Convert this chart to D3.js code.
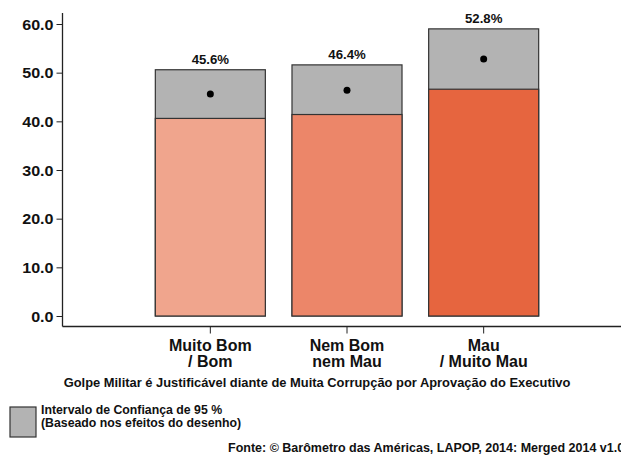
<!DOCTYPE html>
<html>
<head>
<meta charset="utf-8">
<script src="https://cdn.jsdelivr.net/npm/d3@7"></script>
<style>
  html, body { margin: 0; padding: 0; background: #fff; }
  svg { display: block; }
  text { font-family: "Liberation Sans", Arial, Helvetica, sans-serif; font-weight: bold; fill: #111; }
</style>
</head>
<body>
<svg id="chart" width="621" height="456"></svg>
<script>
// Opinion groups (two-line labels) and the estimates for each group
const categories = ["Muito Bom / Bom", "Nem Bom nem Mau", "Mau / Muito Mau"];
const categoryLines = [["Muito Bom", "/ Bom"], ["Nem Bom", "nem Mau"], ["Mau", "/ Muito Mau"]];
const means = [45.6, 46.4, 52.8];
const ciLower = [40.6, 41.4, 46.6];
const ciUpper = [50.6, 51.6, 59.0];
const barColors = ["#F0A58D", "#EC8669", "#E6653F"];
const yTicks = [0, 10, 20, 30, 40, 50, 60];

const titleText = "Golpe Militar é Justificável diante de Muita Corrupção por Aprovação do Executivo";
const legendLines = ["Intervalo de Confiança de 95 %", "(Baseado nos efeitos do desenho)"];
const sourceText = "Fonte: © Barômetro das Américas, LAPOP, 2014: Merged 2014 v1.0";

const svg = d3.select("#chart");
const axisX = 62.5, axisY = 326.5;

const y = d3.scaleLinear().domain([0, 60]).range([316, 24]);
const x = d3.scaleBand().domain(categories).range([142, 552])
  .paddingInner(0.195).paddingOuter(0.0975);

// Y axis
const yAxis = svg.append("g")
  .attr("transform", `translate(${axisX},0)`)
  .call(d3.axisLeft(y).tickValues(yTicks).tickSize(6).tickPadding(3).tickFormat(d3.format(".1f")));
yAxis.select(".domain").remove();
yAxis.selectAll(".tick line").attr("stroke", "#222").attr("stroke-width", 1);
yAxis.selectAll(".tick text")
  .style("font-size", "14px")
  .attr("fill", "#111")
  .attr("transform", "scale(1.15,1)")
  .attr("x", -9 / 1.15)
  .attr("dy", "0.36em");
svg.append("line")
  .attr("x1", axisX).attr("x2", axisX)
  .attr("y1", 13).attr("y2", axisY)
  .attr("stroke", "#222").attr("stroke-width", 1.3);

// X axis
const xAxis = svg.append("g")
  .attr("transform", `translate(0,${axisY})`)
  .call(d3.axisBottom(x).tickSize(7).tickFormat(""));
xAxis.select(".domain").remove();
xAxis.selectAll(".tick line").attr("stroke", "#222").attr("stroke-width", 1);
svg.append("line")
  .attr("x1", axisX).attr("x2", 621)
  .attr("y1", axisY).attr("y2", axisY)
  .attr("stroke", "#222").attr("stroke-width", 1.3);

// Category labels, two lines each
categories.forEach((c, i) => {
  categoryLines[i].forEach((ln, j) => {
    svg.append("text")
      .attr("x", x(c) + x.bandwidth() / 2)
      .attr("y", 351 + j * 16)
      .attr("text-anchor", "middle")
      .style("font-size", "16px")
      .text(ln);
  });
});

// Confidence-interval boxes (grey) with the coloured lower part on top
const bars = svg.append("g");
categories.forEach((c, i) => {
  bars.append("rect")
    .attr("x", x(c)).attr("width", x.bandwidth())
    .attr("y", y(ciUpper[i])).attr("height", y(0) - y(ciUpper[i]))
    .attr("fill", "#B3B3B3").attr("stroke", "#333").attr("stroke-width", 1.2);
  bars.append("rect")
    .attr("x", x(c)).attr("width", x.bandwidth())
    .attr("y", y(ciLower[i])).attr("height", y(0) - y(ciLower[i]))
    .attr("fill", barColors[i]).attr("stroke", "#333").attr("stroke-width", 1.2);
  bars.append("circle")
    .attr("cx", x(c) + x.bandwidth() / 2)
    .attr("cy", y(means[i]))
    .attr("r", 3.5).attr("fill", "#000");
  bars.append("text")
    .attr("transform", `translate(${x(c) + x.bandwidth() / 2},${y(ciUpper[i]) - 6}) scale(1.1,1)`)
    .attr("text-anchor", "middle")
    .style("font-size", "12px")
    .text(d3.format(".1f")(means[i]) + "%");
});

// Variable title under the axis
svg.append("text")
  .attr("x", 317).attr("y", 387)
  .attr("text-anchor", "middle")
  .style("font-size", "12.9px")
  .text(titleText);

// Legend
svg.append("rect")
  .attr("x", 10).attr("y", 407).attr("width", 26).attr("height", 30)
  .attr("fill", "#B3B3B3").attr("stroke", "#333").attr("stroke-width", 1.2);
legendLines.forEach((ln, j) => {
  svg.append("text")
    .attr("x", 41).attr("y", 414 + j * 12.5)
    .style("font-size", "12.3px")
    .text(ln);
});

// Source note (runs past the right edge)
svg.append("text")
  .attr("x", 228).attr("y", 452)
  .style("font-size", "12.5px")
  .text(sourceText);
</script>
</body>
</html>
